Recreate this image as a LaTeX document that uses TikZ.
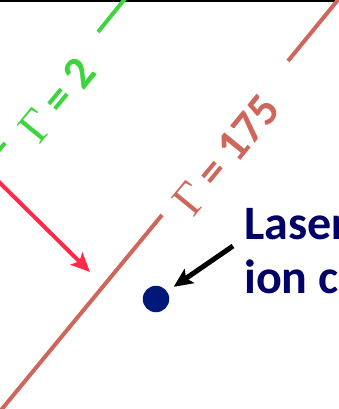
\documentclass[tikz,border=0pt]{standalone}
\usepackage{fontspec}
\setmainfont{Carlito}
\newfontfamily\greekfont{Liberation Serif}
\definecolor{gammagreen}{HTML}{3DD43D}
\definecolor{gammared}{HTML}{CF665C}
\definecolor{laserred}{HTML}{FF2A48}
\definecolor{ionblue}{HTML}{00187A}
\definecolor{labelblue}{HTML}{000066}
\usetikzlibrary{arrows.meta}

\begin{document}
\begin{tikzpicture}[x=1pt, y=-1pt,
  every node/.style={font=\fontsize{46}{53}\selectfont\bfseries, inner sep=0pt},
  gline/.style={line width=4pt},
  glabel/.style={rotate=50.7, anchor=center},
  arr/.style={-{Stealth[length=19pt, width=17pt, inset=4pt]}}
]
  \useasboundingbox (0,0) rectangle (339,409);
  \clip (0,0) rectangle (339,409);
  \fill[black] (0,0) rectangle (339,2.5);

  \coordinate (g1) at (128,-5);
  \coordinate (g2) at (98,32);
  \coordinate (g3) at (5,143);
  \coordinate (g4) at (-5,155);
  \draw[gline, gammagreen] (g1) -- (g2);
  \draw[gline, gammagreen] (g3) -- (g4);
  \node[glabel, text=gammagreen] (gtwo) at (57,100)
    {{\greekfont\mdseries Γ} = 2};

  \coordinate (r1) at (342,-5);
  \coordinate (r2) at (288,61);
  \coordinate (r3) at (162,215);
  \coordinate (r4) at (-3,415);
  \draw[gline, gammared] (r1) -- (r2);
  \draw[gline, gammared] (r3) -- (r4);
  \node[glabel, text=gammared] (gbig) at (226,155)
    {{\greekfont\mdseries Γ} = 175};

  \coordinate (beamin) at (-2,181);
  \coordinate (beamout) at (90,272);
  \draw[arr, line width=4pt, laserred] (beamin) -- (beamout);

  \node[circle, fill=ionblue, minimum size=26.5pt] (ion) at (156,299) {};
  \node[anchor=north west, align=left, text=labelblue,
        font=\fontsize{48}{54}\selectfont\bfseries] (label) at (244,208)
    {Laser\\ion c};
  \coordinate (ptr) at (233,246);
  \draw[arr, line width=5pt, black, shorten >=8pt] (ptr) -- (ion);
\end{tikzpicture}
\end{document}
